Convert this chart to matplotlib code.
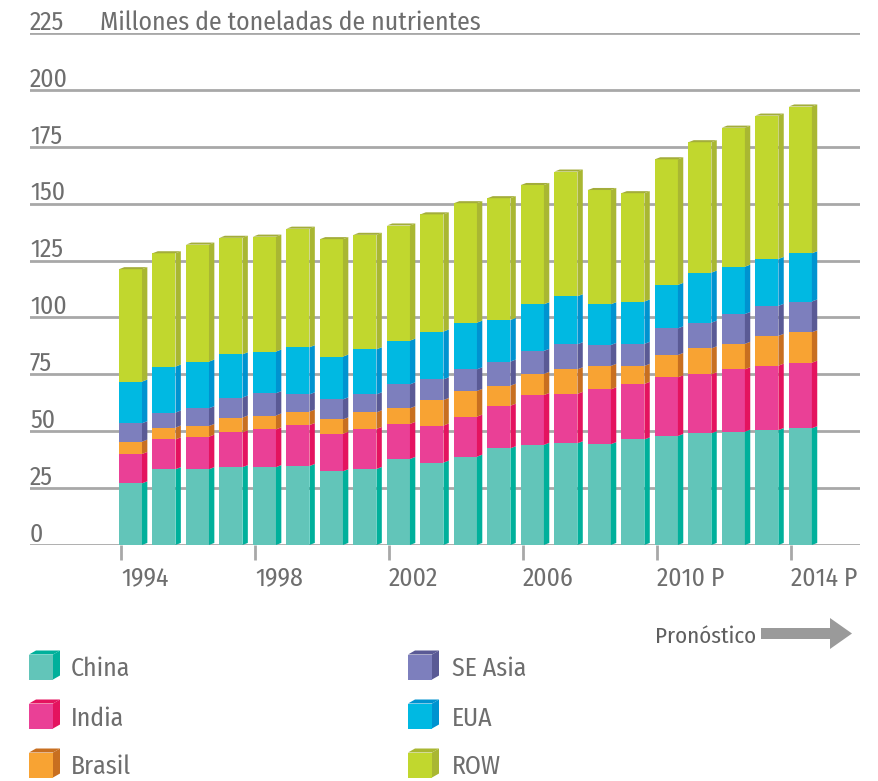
import matplotlib
matplotlib.use("Agg")
import matplotlib.pyplot as plt
from matplotlib import font_manager
from matplotlib.patches import Polygon, Rectangle

# fuente estrecha tipo Frutiger Condensed si existe
names = {f.name for f in font_manager.fontManager.ttflist}
fam, fs = "Open Sans", 16.5
for cand, size in [("Fira Sans Condensed", 18.5), ("PT Sans Narrow", 19),
                   ("Roboto Condensed", 18.5)]:
    if cand in names:
        fam, fs = cand, size
        break
plt.rcParams['font.family'] = [fam, 'DejaVu Sans']

# datos (millones de toneladas de nutrientes)
years = list(range(1994, 2015))
tick_years = [1994, 1998, 2002, 2006, 2010, 2014]
tick_labels = ["1994", "1998", "2002", "2006", "2010 P", "2014 P"]

china  = [27.1, 33.3, 33.3, 34.2, 34.2, 34.7, 32.4, 33.4, 37.8, 36.2, 38.8,
          42.5, 44.0, 44.7, 44.3, 46.4, 47.9, 49.1, 49.8, 50.5, 51.3]
india  = [12.9, 13.1, 14.3, 15.3, 16.6, 18.0, 16.5, 17.6, 15.4, 16.3, 17.6,
          18.7, 21.9, 21.7, 24.1, 24.4, 25.8, 25.9, 27.4, 28.3, 28.8]
brasil = [5.4, 5.2, 4.7, 6.5, 6.1, 5.9, 6.3, 7.3, 6.9, 11.2, 11.3,
          8.8, 9.3, 10.8, 10.3, 7.9, 9.8, 11.4, 11.2, 13.1, 13.4]
seasia = [8.1, 6.6, 7.8, 8.8, 9.8, 7.6, 8.8, 7.9, 10.5, 9.1, 9.5,
          10.6, 10.1, 11.0, 9.2, 9.7, 11.7, 11.3, 13.1, 13.2, 13.5]
eua    = [18.3, 20.2, 20.5, 19.0, 18.3, 20.7, 18.8, 19.8, 19.2, 21.0, 20.5,
          18.3, 20.5, 21.1, 17.9, 18.6, 19.1, 22.0, 20.8, 20.6, 21.2]
row    = [49.4, 49.8, 51.4, 51.2, 50.5, 52.1, 51.6, 50.3, 50.6, 51.5, 52.5,
          53.5, 52.4, 54.8, 50.2, 47.6, 55.2, 57.3, 61.1, 63.0, 64.5]

series = [("China", china), ("India", india), ("Brasil", brasil),
          ("SE Asia", seasia), ("EUA", eua), ("ROW", row)]
front = {"China": "#62c5b9", "India": "#ea4096", "Brasil": "#f8a333",
         "SE Asia": "#7d7fbd", "EUA": "#00b9e2", "ROW": "#c1d72e"}
side = {"China": "#00b09b", "India": "#e4135f", "Brasil": "#c86f20",
        "SE Asia": "#5a5a95", "EUA": "#0093d0", "ROW": "#a9b732"}

grey = "#a8a8a8"
txt = "#6e6e6e"

W, H = 879, 781
fig = plt.figure(figsize=(W / 100, H / 100), dpi=100)
ax = fig.add_axes([30 / W, (H - 545) / H, 830 / W, 512 / H])

w = 0.687
dx = 0.16
dy = 0.9
xs = [y - 1994 for y in years]
bottom = [0.0] * len(xs)
for name, vals in series:
    ax.bar(xs, vals, width=w, bottom=bottom, color=front[name],
           linewidth=0, zorder=3)
    for x, b, v in zip(xs, bottom, vals):
        r = x + w / 2
        ax.add_patch(Polygon([(r, b), (r + dx, b + dy), (r + dx, b + v + dy), (r, b + v)],
                             closed=True, color=side[name], lw=0, zorder=3))
    bottom = [b + v for b, v in zip(bottom, vals)]
# tapa superior
for x, t in zip(xs, bottom):
    l, r = x - w / 2, x + w / 2
    ax.add_patch(Polygon([(l, t), (l + dx, t + dy), (r + dx, t + dy), (r, t)],
                         closed=True, color="#a3ad3a", lw=0, zorder=3))

ax.set_xlim(-3.0, 21.78)
ax.set_ylim(0, 225)
ax.set_yticks(range(0, 226, 25))
ax.grid(axis="y", color=grey, lw=2)
ax.set_axisbelow(True)
ax.tick_params(axis="y", length=0, labelleft=False)
for s in ax.spines.values():
    s.set_visible(False)

ax.set_xticks([y - 1994 - 0.28 for y in tick_years])
ax.set_xticklabels(tick_labels, ha="left", fontsize=fs, color=txt)
ax.tick_params(axis="x", length=11, width=2, color=grey, pad=4)

ytr = ax.get_yaxis_transform()
for v in range(0, 226, 25):
    ax.text(0, v + 1.4, str(v), transform=ytr, fontsize=fs, color=txt,
            ha="left", va="baseline")
ax.text(70 / 830, 225 + 1.4, "Millones de toneladas de nutrientes", transform=ytr,
        fontsize=fs, color=txt, ha="left", va="baseline")

# capa para leyenda y flecha, en pixeles
ov = fig.add_axes([0, 0, 1, 1])
ov.set_xlim(0, W)
ov.set_ylim(H, 0)
ov.axis("off")

def cube(x0, yc, name):
    fw, fh, ox, oy = 24, 25, 7, 4
    top = yc - fh / 2
    ov.add_patch(Rectangle((x0, top), fw, fh, color=front[name], lw=0))
    ov.add_patch(Polygon([(x0 + fw, top), (x0 + fw + ox, top - oy),
                          (x0 + fw + ox, top + fh - oy), (x0 + fw, top + fh)],
                         closed=True, color=side[name], lw=0))
    ov.add_patch(Polygon([(x0, top), (x0 + ox, top - oy), (x0 + fw + ox, top - oy),
                          (x0 + fw, top)], closed=True, color=side[name], lw=0))

rows_y = [667, 716, 765]
for k, (name, _) in enumerate(series):
    col, r = divmod(k, 3)
    x0 = 29 if col == 0 else 408
    tx = 71 if col == 0 else 452
    cube(x0, rows_y[r], name)
    ov.text(tx, rows_y[r] + 9.5, name, fontsize=fs, color=txt,
            ha="left", va="baseline")

ov.text(655, 643, "Pronóstico", fontsize=fs - 2, color="#5f5f5f",
        ha="left", va="baseline")
ov.add_patch(Polygon([(761, 628), (830, 628), (830, 618), (852, 633.5),
                      (830, 649), (830, 639), (761, 639)],
                     closed=True, color="#9a9a9a", lw=0))

fig.savefig("out.png", dpi=100)
